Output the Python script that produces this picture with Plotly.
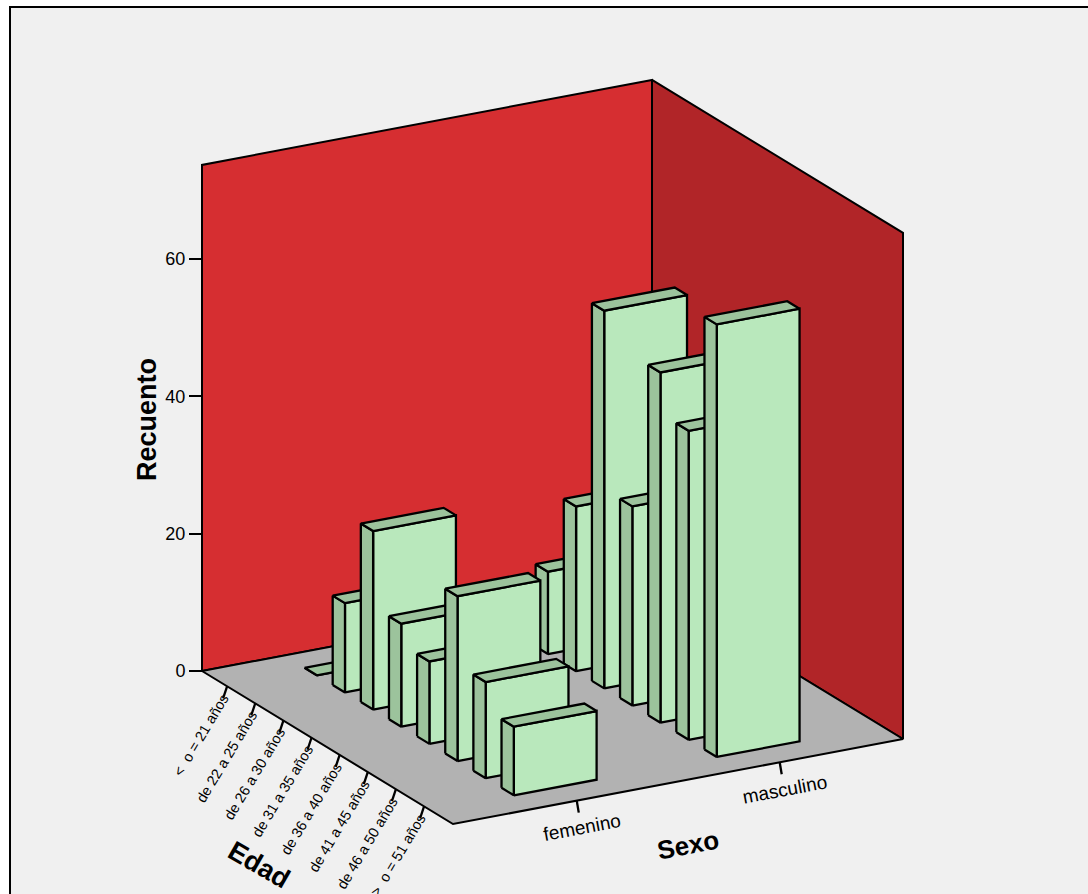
import plotly.graph_objects as go

# Counts by age group and sex
age_groups = ["<  o = 21 años", "de 22 a 25 años", "de 26 a 30 años", "de 31 a 35 años",
              "de 36 a 40 años", "de 41 a 45 años", "de 46 a 50 años", ">  o = 51 años"]
sexes = ["femenino", "masculino"]
femenino = [0, 13, 26, 15, 12, 24, 14, 10]
masculino = [0, 12, 24, 55, 29, 51, 45, 63]
count_ticks = [0, 20, 40, 60]
count_top = 73.7

W, H = 1088, 894
PX_PER_COUNT = 6.867
ORIGIN_X, ORIGIN_Y = 202, 671
SEX_VEC = (450, -85)
AGE_VEC = (251, 153)

SEX_POS = [0.275, 0.726]
AGE_FIRST, AGE_STEP = 0.105, 0.1121
HALF_SEX, HALF_AGE = 0.092, 0.0245

FRONT = "#b9e8bc"
SHADE = "#9cc39c"
WALL_L = "#d62e31"
WALL_R = "#b12528"
FLOOR = "#b2b2b2"
BACK = "#f0f0f0"
INK = "#000000"
FONT = "Liberation Sans, Arial, sans-serif"
EDGE = 2.3


def project(s, d, h=0.0):
    """Oblique projection of (sex, age, count) onto the x axis and the count axis."""
    x = ORIGIN_X + s * SEX_VEC[0] + d * AGE_VEC[0]
    y = h - (s * SEX_VEC[1] + d * AGE_VEC[1]) / PX_PER_COUNT
    return x, y


def poly(points, fill, width=EDGE):
    xs, ys = zip(*[project(*p) for p in points])
    return go.Scatter(x=list(xs) + [xs[0]], y=list(ys) + [ys[0]], mode="lines", fill="toself",
                      fillcolor=fill, line=dict(color=INK, width=width), hoverinfo="skip",
                      showlegend=False)


def segment(a, b):
    return go.Scatter(x=[a[0], b[0]], y=[a[1], b[1]], mode="lines",
                      line=dict(color=INK, width=EDGE), hoverinfo="skip", showlegend=False)


fig = go.Figure()

# Walls and floor
fig.add_trace(poly([(0, 0, 0), (1, 0, 0), (1, 0, count_top), (0, 0, count_top)], WALL_L, 2))
fig.add_trace(poly([(1, 0, 0), (1, 1, 0), (1, 1, count_top), (1, 0, count_top)], WALL_R, 2))
fig.add_trace(poly([(0, 0, 0), (1, 0, 0), (1, 1, 0), (0, 1, 0)], FLOOR, 2))


def add_bar(s, d, v):
    s0, s1 = s - HALF_SEX, s + HALF_SEX
    d0, d1 = d - HALF_AGE, d + HALF_AGE
    fig.add_trace(poly([(s0, d1, 0), (s1, d1, 0), (s1, d1, v), (s0, d1, v)], FRONT))
    fig.add_trace(poly([(s0, d0, 0), (s0, d1, 0), (s0, d1, v), (s0, d0, v)], SHADE))
    fig.add_trace(poly([(s0, d0, v), (s1, d0, v), (s1, d1, v), (s0, d1, v)], SHADE))


# Far column first, then back-to-front along the age axis
for col, values in [(1, masculino), (0, femenino)]:
    for i, v in enumerate(values):
        add_bar(SEX_POS[col], AGE_FIRST + i * AGE_STEP, v)

annotations = []


def label(text, x, y, size, angle, bold=False, xanchor="center", yanchor="middle", ref="data"):
    annotations.append(dict(
        text=f"<b>{text}</b>" if bold else text, x=x, y=y,
        xref="x" if ref == "data" else "paper", yref="y" if ref == "data" else "paper",
        showarrow=False, textangle=angle, xanchor=xanchor, yanchor=yanchor,
        font=dict(family=FONT, size=size, color=INK), borderpad=0, borderwidth=0,
    ))


# Age axis ticks and labels along the left floor edge
for i, name in enumerate(age_groups):
    d = AGE_FIRST - 0.005 + i * AGE_STEP
    x0, y0 = project(0, d)
    x1, y1 = x0 - 4, y0 - 12 / PX_PER_COUNT
    fig.add_trace(segment((x0, y0), (x1, y1)))
    label(name, x1 + 9, y1 + 7 / PX_PER_COUNT, 14.5, -59, xanchor="right", yanchor="top")

# Sex axis ticks and labels along the front floor edge
for s, name in zip(SEX_POS, sexes):
    x0, y0 = project(s, 1)
    x1, y1 = x0 + 2, y0 - 12 / PX_PER_COUNT
    fig.add_trace(segment((x0, y0), (x1, y1)))
    label(name, x1 + 3, y1 - 15 / PX_PER_COUNT, 19, -10.7)

# Axis titles
label("Recuento", 147 / W, 1 - 420 / H, 27, -90, bold=True, ref="paper")
label("Sexo", 688 / W, 1 - 845 / H, 26, -11, bold=True, ref="paper")
label("Edad", 259 / W, 1 - 865 / H, 27, 30, bold=True, ref="paper")

fig.update_layout(
    width=W, height=H, margin=dict(l=0, r=0, t=0, b=0, pad=0), autosize=False,
    paper_bgcolor="#ffffff", plot_bgcolor="rgba(0,0,0,0)", showlegend=False,
    annotations=annotations,
    shapes=[dict(type="rect", xref="paper", yref="paper", layer="below",
                 x0=10 / W, x1=1.05, y0=-0.05, y1=1 - 7 / H,
                 fillcolor=BACK, line=dict(color=INK, width=2))],
    xaxis=dict(range=[0, W], visible=False, domain=[0, 1]),
    yaxis=dict(range=[(ORIGIN_Y - H) / PX_PER_COUNT, ORIGIN_Y / PX_PER_COUNT],
               domain=[0, 1], anchor="free", position=ORIGIN_X / W, side="left",
               tickmode="array", tickvals=count_ticks, ticks="outside", ticklen=13,
               tickwidth=2.3, tickcolor=INK, showgrid=False, zeroline=False, showline=False,
               tickfont=dict(family=FONT, size=18, color=INK)),
)

fig.write_html("out.html")
